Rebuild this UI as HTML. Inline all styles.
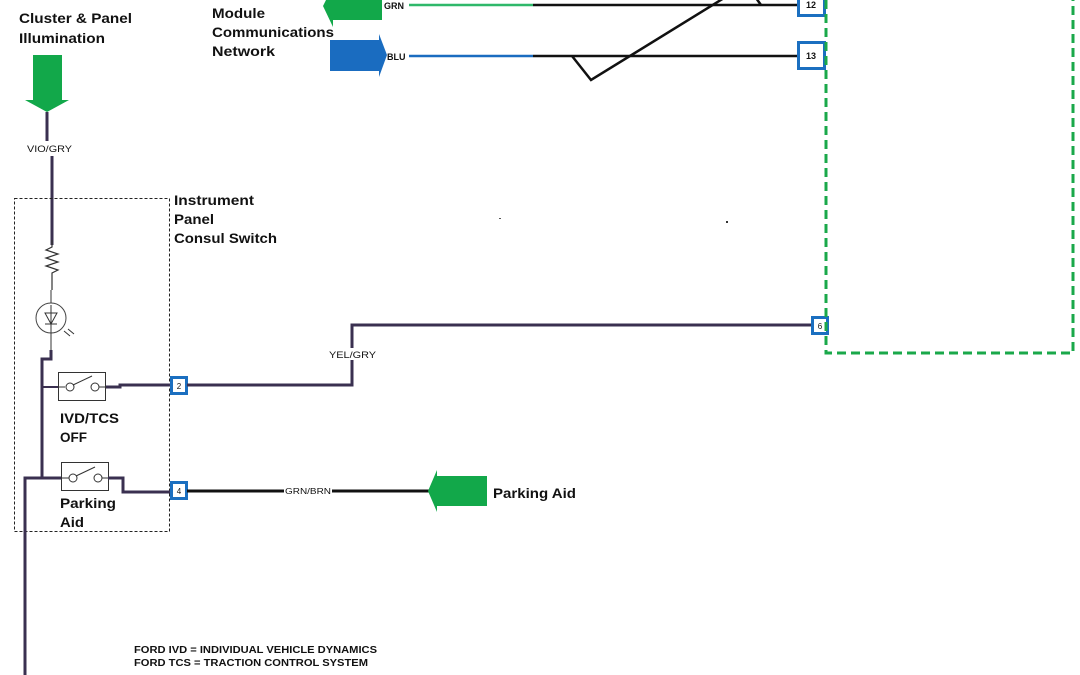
<!DOCTYPE html>
<html><head><meta charset="utf-8"><style>
html,body{margin:0;padding:0;background:#fff;}
svg{display:block;}
text{font-family:"Liberation Sans",Arial,sans-serif;}
.b{font-weight:bold;font-size:14px;fill:#111;}
.s{font-size:9.5px;fill:#111;}
</style></head><body>
<svg width="1080" height="675" viewBox="0 0 1080 675" xmlns="http://www.w3.org/2000/svg">
<text class="b" x="19" y="23" textLength="113" lengthAdjust="spacingAndGlyphs">Cluster &amp; Panel</text>
<text class="b" x="19" y="43" textLength="86" lengthAdjust="spacingAndGlyphs">Illumination</text>
<polygon points="33,55 62,55 62,100 69,100 47,112 25,100 33,100" fill="#12a84a"/>
<line x1="47" y1="112" x2="47" y2="141" stroke="#3a3050" stroke-width="3"/>
<text class="s" x="27" y="152" textLength="45" lengthAdjust="spacingAndGlyphs">VIO/GRY</text>
<line x1="52" y1="156" x2="52" y2="245" stroke="#3a3050" stroke-width="3"/>
<rect x="14.5" y="198.5" width="155" height="333" fill="none" stroke="#222" stroke-width="1" stroke-dasharray="3,2"/>
<text class="b" x="174" y="205" textLength="80" lengthAdjust="spacingAndGlyphs">Instrument</text>
<text class="b" x="174" y="224" textLength="40" lengthAdjust="spacingAndGlyphs">Panel</text>
<text class="b" x="174" y="243" textLength="103" lengthAdjust="spacingAndGlyphs">Consul Switch</text>
<polyline points="52,240 52,247 46,250 58,254 46,258 58,262 46,266 58,270 52,273 52,290" fill="none" stroke="#333" stroke-width="1.2"/>
<circle cx="51" cy="318" r="15" fill="none" stroke="#444" stroke-width="1"/>
<line x1="51" y1="290" x2="51" y2="303" stroke="#333" stroke-width="1"/>
<polygon points="45,313 57,313 51,324" fill="none" stroke="#333" stroke-width="1"/>
<line x1="45" y1="324" x2="57" y2="324" stroke="#333" stroke-width="1"/>
<line x1="51" y1="305" x2="51" y2="333" stroke="#333" stroke-width="1"/>
<line x1="64" y1="331" x2="70" y2="336" stroke="#333" stroke-width="1"/>
<line x1="68" y1="329" x2="74" y2="334" stroke="#333" stroke-width="1"/>
<line x1="51" y1="333" x2="51" y2="350" stroke="#333" stroke-width="1"/>
<polyline points="51,350 51,359 42,359 42,479" fill="none" stroke="#3a3050" stroke-width="3"/>
<line x1="42" y1="387" x2="58" y2="387" stroke="#3a3050" stroke-width="2"/>
<rect x="58.5" y="372.5" width="47" height="28" fill="#fff" stroke="#333" stroke-width="1"/>
<line x1="58" y1="387" x2="65" y2="387" stroke="#333"/>
<circle cx="70" cy="387" r="4" fill="#fff" stroke="#333"/>
<circle cx="95" cy="387" r="4" fill="#fff" stroke="#333"/>
<line x1="73" y1="385" x2="92" y2="376" stroke="#333"/>
<line x1="99" y1="387" x2="106" y2="387" stroke="#333"/>
<polyline points="106,387 120,387 120,385 171,385" fill="none" stroke="#3a3050" stroke-width="3"/>
<text class="b" x="60" y="423" textLength="59" lengthAdjust="spacingAndGlyphs">IVD/TCS</text>
<text class="b" x="60" y="442" textLength="27" lengthAdjust="spacingAndGlyphs">OFF</text>
<line x1="42" y1="478" x2="61" y2="478" stroke="#3a3050" stroke-width="3"/>
<rect x="61.5" y="462.5" width="47" height="28" fill="#fff" stroke="#333" stroke-width="1"/>
<circle cx="73" cy="478" r="4" fill="#fff" stroke="#333"/>
<circle cx="98" cy="478" r="4" fill="#fff" stroke="#333"/>
<line x1="76" y1="476" x2="95" y2="467" stroke="#333"/>
<line x1="61" y1="478" x2="69" y2="478" stroke="#333"/>
<line x1="102" y1="478" x2="108" y2="478" stroke="#333"/>
<polyline points="108,478 123,478 123,492 171,492" fill="none" stroke="#3a3050" stroke-width="3"/>
<text class="b" x="60" y="508" textLength="56" lengthAdjust="spacingAndGlyphs">Parking</text>
<text class="b" x="60" y="527" textLength="24" lengthAdjust="spacingAndGlyphs">Aid</text>
<polyline points="42,478 25,478 25,675" fill="none" stroke="#3a3050" stroke-width="3"/>
<rect x="171.5" y="377.5" width="15" height="16" fill="#fff" stroke="#1b6fc0" stroke-width="3"/>
<text x="179" y="389" font-size="8" text-anchor="middle" fill="#111">2</text>
<polyline points="187,385 352,385 352,325 812,325" fill="none" stroke="#3a3050" stroke-width="3"/>
<rect x="329" y="348" width="47" height="12" fill="#fff"/>
<text class="s" x="329" y="358" textLength="47" lengthAdjust="spacingAndGlyphs">YEL/GRY</text>
<rect x="812.5" y="317.5" width="15" height="16" fill="#fff" stroke="#1b6fc0" stroke-width="3"/>
<text x="820" y="329" font-size="8" text-anchor="middle" fill="#111">6</text>
<rect x="171.5" y="482.5" width="15" height="16" fill="#fff" stroke="#1b6fc0" stroke-width="3"/>
<text x="179" y="494" font-size="8" text-anchor="middle" fill="#111">4</text>
<line x1="187" y1="491" x2="430" y2="491" stroke="#111" stroke-width="3"/>
<rect x="284" y="485" width="48" height="12" fill="#fff"/>
<text x="285" y="494" font-size="8.5" textLength="46" lengthAdjust="spacingAndGlyphs" fill="#111">GRN/BRN</text>
<polygon points="428,491 437,470 437,476 487,476 487,506 437,506 437,512" fill="#12a84a"/>
<text class="b" x="493" y="498" textLength="83" lengthAdjust="spacingAndGlyphs">Parking Aid</text>
<text class="b" x="212" y="18" textLength="53" lengthAdjust="spacingAndGlyphs">Module</text>
<text class="b" x="212" y="37" textLength="122" lengthAdjust="spacingAndGlyphs">Communications</text>
<text class="b" x="212" y="56" textLength="63" lengthAdjust="spacingAndGlyphs">Network</text>
<polygon points="323,6 333,-14 333,-4 382,-4 382,20 333,20 333,27" fill="#12a84a"/>
<text x="384" y="9" font-size="9" font-weight="bold" fill="#111">GRN</text>
<line x1="409" y1="5" x2="533" y2="5" stroke="#2fb86a" stroke-width="2.5"/>
<line x1="533" y1="5" x2="797" y2="5" stroke="#111" stroke-width="2.5"/>
<polygon points="330,40 379,40 379,34 387,55 379,77 379,71 330,71" fill="#1a6cc0"/>
<text x="387" y="60" font-size="9" font-weight="bold" fill="#111">BLU</text>
<line x1="409" y1="56" x2="533" y2="56" stroke="#1a6cc0" stroke-width="2.5"/>
<line x1="533" y1="56" x2="797" y2="56" stroke="#111" stroke-width="2.5"/>
<polyline points="572,56 591,80 724,-2" fill="none" stroke="#111" stroke-width="2.5"/>
<line x1="756" y1="-2" x2="761" y2="5" stroke="#111" stroke-width="2.5"/>
<rect x="798.5" y="-6.5" width="26" height="22" fill="#fff" stroke="#1b6fc0" stroke-width="3"/>
<text x="811" y="8" font-size="9" font-weight="bold" text-anchor="middle" fill="#111">12</text>
<rect x="798.5" y="42.5" width="26" height="26" fill="#fff" stroke="#1b6fc0" stroke-width="3"/>
<text x="811" y="59" font-size="9" font-weight="bold" text-anchor="middle" fill="#111">13</text>
<polyline points="826,0 826,353 1073,353 1073,0" fill="none" stroke="#1aa84a" stroke-width="3" stroke-dasharray="9,5"/>
<rect x="499" y="218" width="2" height="1" fill="#555"/>
<rect x="726" y="221" width="2" height="2" fill="#333"/>
<text x="134" y="653" font-size="10" font-weight="bold" fill="#111" textLength="243" lengthAdjust="spacingAndGlyphs">FORD IVD = INDIVIDUAL VEHICLE DYNAMICS</text>
<text x="134" y="666" font-size="10" font-weight="bold" fill="#111" textLength="234" lengthAdjust="spacingAndGlyphs">FORD TCS = TRACTION CONTROL SYSTEM</text>
</svg>
</body></html>
